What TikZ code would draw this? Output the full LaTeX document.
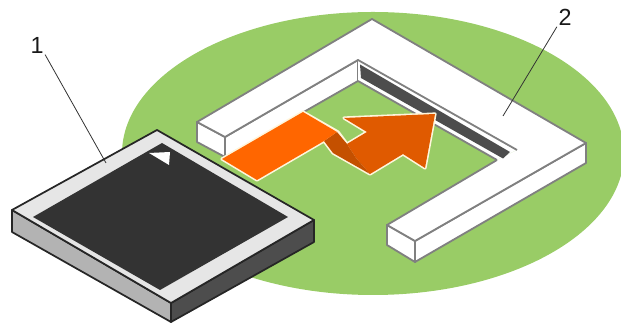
\documentclass[tikz,border=0pt]{standalone}
\usepackage{fontspec}
\setmainfont{Liberation Sans}
\definecolor{grn}{HTML}{99CC66}
\definecolor{frameln}{HTML}{808080}
\definecolor{orlight}{HTML}{FF6600}
\definecolor{ormid}{HTML}{E05A00}
\definecolor{ordark}{HTML}{C45000}
\definecolor{cream}{HTML}{FFF6DC}
\definecolor{slot}{HTML}{4D4D4D}
\definecolor{cardtop}{HTML}{E6E6E6}
\definecolor{cardleft}{HTML}{B3B3B3}
\definecolor{cardright}{HTML}{4D4D4D}
\definecolor{cardface}{HTML}{333333}
\tikzset{
  framepart/.style={fill=white,draw=frameln,line width=1.35pt,line join=round},
  frameedge/.style={draw=frameln,line width=1.35pt,line join=round},
  orpart/.style={line join=round},
  cardpart/.style={draw=black!85,line width=1.3pt,line join=round},
  leader/.style={draw=black!80,line width=.6pt},
  num/.style={font=\fontsize{17.5}{19}\selectfont,inner sep=1pt,text=black!90}
}
\begin{document}
\begin{tikzpicture}[x=.75pt,y=-.75pt]
\useasboundingbox (0,0) rectangle (621,323);
\begin{scope}
\clip (0,0) rectangle (621,323);
\fill[grn] (373,153.5) ellipse [x radius=251,y radius=141.5];
\end{scope}
% frame: outer side walls
\draw[framepart] (225,137) -- (225,157) -- (197,142) -- (197,122) -- cycle;
\draw[framepart] (225,157) -- (358,81) -- (358,60) -- (225,137) -- cycle;
\draw[framepart] (415,241) -- (415,262) -- (387,245) -- (387,225) -- cycle;
\draw[framepart] (415,241) -- (415,262) -- (586,163) -- (586,143) -- cycle;
% inner wall
\fill[white] (358,60) -- (517,150) -- (497,160) -- (358,81) -- cycle;
\draw[frameedge] (358,81) -- (497,160);
% frame: top face
\fill[white] (372,19) -- (586,143) -- (415,241) -- (387,225) -- (497,160) -- (517,150) -- (358,60) -- (225,137) -- (197,122) -- cycle;
\draw[frameedge] (497,160) -- (387,225) -- (415,241) -- (586,143) -- (372,19) -- (197,122) -- (225,137) -- (358,60) -- (517,150);
% slot in the inner wall
\fill[slot] (360,64.5) -- (510,152) -- (503,158.5) -- (361,78) -- cycle;
% folded orange arrow
\fill[cream,orpart,draw=cream,line width=2.4pt]
  (222,159) -- (303,112) -- (338,132) -- (347,144) -- (367,132) -- (344,118) -- (435,114)
  -- (425,168) -- (403,154) -- (370,174) -- (333,153) -- (324,141) -- (257,180) -- cycle;
\fill[ormid] (347,144) -- (367,132) -- (344,118) -- (435,114) -- (425,168) -- (403,154) -- (370,174) -- (356,158) -- cycle;
\fill[ordark] (337,132) -- (347,144) -- (356,158) -- (370,174) -- (333,153) -- (324,141) -- cycle;
\fill[orlight] (222,159) -- (303,112) -- (337,132) -- (324,141) -- (257,180) -- cycle;
% card
\draw[cardpart,fill=cardleft] (12,210) -- (171,303) -- (171,322) -- (12,232) -- cycle;
\draw[cardpart,fill=cardright] (171,303) -- (314,220) -- (314,242) -- (171,322) -- cycle;
\draw[cardpart,fill=cardtop] (157,130) -- (314,220) -- (171,303) -- (12,210) -- cycle;
\fill[cardface] (162,143) -- (288,217) -- (160,290) -- (33,217) -- cycle;
\fill[white] (149,153) -- (170,152) -- (169,165) -- cycle;
% callouts
\node[num] (l1) at (37,45) {1};
\node[num] (l2) at (565,17) {2};
\coordinate (t1) at (106,163);
\coordinate (t2) at (503,116);
\draw[leader] (l1.south east) -- (t1);
\draw[leader] (l2.south west) -- (t2);
\end{tikzpicture}
\end{document}
